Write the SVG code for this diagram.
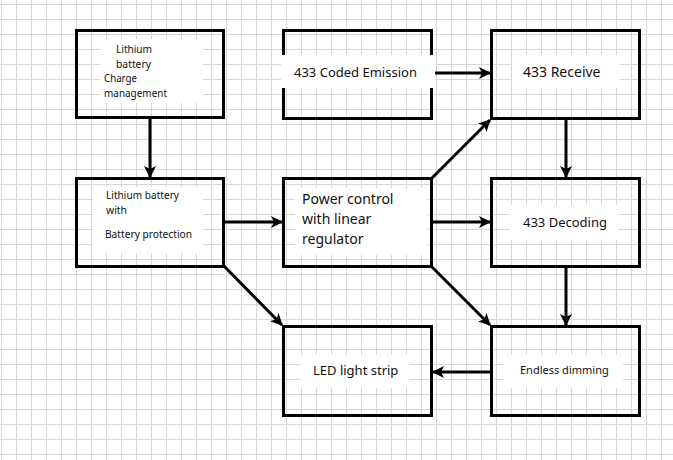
<svg xmlns="http://www.w3.org/2000/svg" width="673" height="460" viewBox="0 0 673 460">
<defs>
<pattern id="grid" x="1" y="4" width="15" height="15" patternUnits="userSpaceOnUse">
<path d="M0 0.5H15M0.5 0V15" fill="none" stroke="#d6d6d6" stroke-width="1"/>
</pattern>
<marker id="ah" viewBox="0 0 12 12" refX="11" refY="6" markerWidth="12" markerHeight="12" markerUnits="userSpaceOnUse" orient="auto">
<path d="M0 0L12 6L0 12L3 6Z" fill="#000"/>
</marker>
<style>
.box{fill:none;stroke:#000;stroke-width:3}
.pad{fill:#fff}
.t{font-family:"Noto Sans","Open Sans",sans-serif;fill:#111}
.s{font-size:11px}
.m{font-size:13px}
.l{font-size:14px}
.c{fill:none;stroke:#000;stroke-width:3;marker-end:url(#ah)}
</style>
</defs>
<rect width="673" height="460" fill="#fff"/>
<rect width="673" height="460" fill="url(#grid)"/>

<g id="charge">
<rect class="box" x="76.5" y="30.5" width="147" height="87"/>
<rect class="pad" x="100" y="39" width="103" height="64"/>
<text class="t s" x="116" y="53" textLength="36" lengthAdjust="spacingAndGlyphs">Lithium</text>
<text class="t s" x="116" y="68" textLength="35" lengthAdjust="spacingAndGlyphs">battery</text>
<text class="t s" x="104" y="82" textLength="33" lengthAdjust="spacingAndGlyphs">Charge</text>
<text class="t s" x="104" y="97" textLength="63" lengthAdjust="spacingAndGlyphs">management</text>
</g>

<g id="protection">
<rect class="box" x="76.5" y="178.5" width="147" height="88"/>
<rect class="pad" x="93" y="187" width="110" height="66"/>
<text class="t s" x="106" y="199" textLength="73" lengthAdjust="spacingAndGlyphs">Lithium battery</text>
<text class="t s" x="106" y="214" textLength="21" lengthAdjust="spacingAndGlyphs">with</text>
<text class="t s" x="105" y="238" textLength="87" lengthAdjust="spacingAndGlyphs">Battery protection</text>
</g>

<g id="emission">
<rect class="box" x="283.5" y="30.5" width="148" height="88"/>
<rect class="pad" x="281" y="55" width="154" height="33"/>
<text class="t m" x="294" y="77">433 Coded Emission</text>
</g>

<g id="receive">
<rect class="box" x="491.5" y="30.5" width="148" height="88"/>
<rect class="pad" x="512" y="55" width="108" height="33"/>
<text class="t l" x="523" y="77">433 Receive</text>
</g>

<g id="power">
<rect class="box" x="283.5" y="178.5" width="148" height="88"/>
<rect class="pad" x="295" y="188" width="132" height="67"/>
<text class="t l" x="302" y="204">Power control</text>
<text class="t l" x="302" y="224">with linear</text>
<text class="t l" x="302" y="244">regulator</text>
</g>

<g id="decoding">
<rect class="box" x="491.5" y="178.5" width="148" height="88"/>
<rect class="pad" x="510" y="205" width="108" height="35"/>
<text class="t m" x="523" y="227">433 Decoding</text>
</g>

<g id="led">
<rect class="box" x="283.5" y="326.5" width="148" height="89"/>
<rect class="pad" x="300" y="355" width="110" height="33"/>
<text class="t m" x="313" y="375">LED light strip</text>
</g>

<g id="dimming">
<rect class="box" x="491.5" y="326.5" width="148" height="89"/>
<rect class="pad" x="503" y="355" width="120" height="33"/>
<text class="t s" x="520" y="374">Endless dimming</text>
</g>

<g id="connectors">
<path class="c" d="M150 118V177"/>
<path class="c" d="M224 222H282"/>
<path class="c" d="M435 73H490"/>
<path class="c" d="M432 178L490 120"/>
<path class="c" d="M432 222H490"/>
<path class="c" d="M566 118V177"/>
<path class="c" d="M432 267L490 325"/>
<path class="c" d="M224 266L282 325"/>
<path class="c" d="M566 267V325"/>
<path class="c" d="M491 372H433"/>
</g>
</svg>
